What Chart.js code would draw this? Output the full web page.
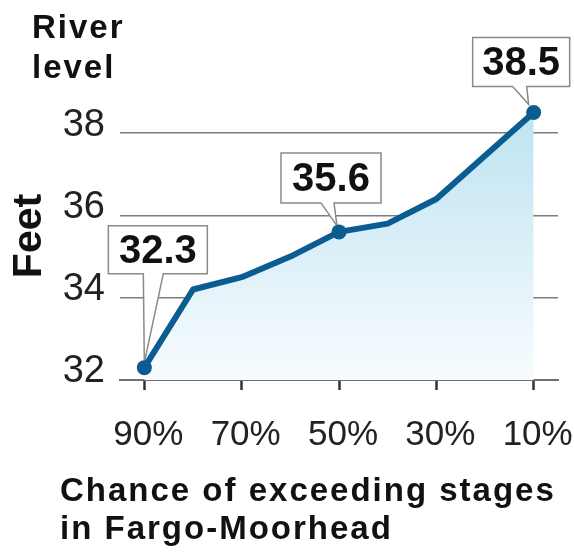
<!DOCTYPE html>
<html><head><meta charset="utf-8">
<script src="https://cdn.jsdelivr.net/npm/chart.js@4.4.1/dist/chart.umd.min.js"></script>
<style>html,body{margin:0;padding:0;background:#fff;}#wrap{width:574px;height:555px;}</style>
</head><body><div id="wrap"><canvas id="c" width="574" height="555"></canvas></div>
<script>
// ---- data ----
const categories = ['90%','80%','70%','60%','50%','40%','30%','20%','10%'];
const riverLevel = [32.3, 34.2, 34.5, 35.0, 35.6, 35.8, 36.4, 37.45, 38.5];
const labelledIndices = [0, 4, 8];
const yTickValues = [32, 34, 36, 38];
const shownXTicks = ['90%','70%','50%','30%','10%'];
const yTitle = 'Feet';
const topTitle = ['River', 'level'];
const xTitle = ['Chance of exceeding stages', 'in Fargo-Moorhead'];

// ---- style: callout geometry relative to the point ----
const calloutStyle = {
  0: {dx:-36, dy:-142, w:99, h:48, b1:-1, b2:19, tx:0, ty:-5},
  4: {dx:-58, dy:-79, w:100, h:50, b1:-18, b2:-5, tx:-2, ty:-6},
  8: {dx:-61, dy:-75, w:97, h:49, b1:-21, b2:-7, tx:-5, ty:-8}
};
const lineBlue = '#0b5c91';
const FONT = 'Liberation Sans, Arial, sans-serif';

const calloutPlugin = {
  id: 'callouts',
  beforeDatasetsDraw(chart) {
    const ctx = chart.ctx;
    const meta = chart.getDatasetMeta(0);
    ctx.save();
    labelledIndices.forEach(i => {
      const p = meta.data[i];
      const s = calloutStyle[i];
      const px = p.x, py = p.y;
      const L = px + s.dx, T = py + s.dy, R = L + s.w, B = T + s.h;
      ctx.beginPath();
      ctx.moveTo(L, T); ctx.lineTo(R, T); ctx.lineTo(R, B);
      ctx.lineTo(px + s.b2, B); ctx.lineTo(px + s.tx, py + s.ty); ctx.lineTo(px + s.b1, B);
      ctx.lineTo(L, B); ctx.closePath();
      ctx.fillStyle = '#ffffff'; ctx.fill();
      ctx.strokeStyle = '#8a8a8a'; ctx.lineWidth = 1.5; ctx.stroke();
      ctx.fillStyle = '#111';
      ctx.font = 'bold 40px ' + FONT;
      ctx.textAlign = 'center'; ctx.textBaseline = 'middle';
      ctx.fillText(riverLevel[i].toFixed(1), (L + R) / 2, (T + B) / 2 + 2);
    });
    ctx.restore();
  },
  afterDraw(chart) {
    const ctx = chart.ctx;
    ctx.save();
    ctx.fillStyle = '#111';
    ctx.font = 'bold 33px ' + FONT;
    ctx.textAlign = 'left'; ctx.textBaseline = 'alphabetic';
    try { ctx.letterSpacing = '2px'; } catch (e) {}
    ctx.fillText(topTitle[0], 32, 38);
    ctx.fillText(topTitle[1], 32, 78);
    ctx.fillText(xTitle[0], 60, 501);
    ctx.fillText(xTitle[1], 60, 539);
    try { ctx.letterSpacing = '0px'; } catch (e) {}
    ctx.restore();
  }
};

new Chart(document.getElementById('c'), {
  type: 'line',
  data: {
    labels: categories,
    datasets: [{
      data: riverLevel,
      borderColor: lineBlue,
      borderWidth: 6,
      tension: 0,
      borderJoinStyle: 'round',
      borderCapStyle: 'round',
      fill: 'start',
      backgroundColor: (c) => {
        const ca = c.chart.chartArea;
        if (!ca) return 'rgba(190,228,242,0.6)';
        const g = c.chart.ctx.createLinearGradient(0, ca.top + 20, 0, ca.bottom);
        g.addColorStop(0, '#bde3f1');
        g.addColorStop(1, '#f8fcfe');
        return g;
      },
      pointRadius: (c) => labelledIndices.includes(c.dataIndex) ? 7.5 : 0,
      pointHoverRadius: (c) => labelledIndices.includes(c.dataIndex) ? 7.5 : 0,
      pointBackgroundColor: lineBlue,
      pointBorderWidth: 0,
      clip: false
    }]
  },
  options: {
    responsive: false,
    animation: false,
    devicePixelRatio: 1,
    layout: { padding: { top: 92, right: 16, left: 0, bottom: 0 } },
    plugins: { legend: { display: false }, tooltip: { enabled: false }, title: { display: false } },
    scales: {
      x: {
        offset: true,
        afterFit: (s) => { s.height = 175; s.paddingLeft = 0; s.paddingRight = 0; },
        border: { display: true, color: '#707070', width: 2 },
        grid: {
          display: true, drawOnChartArea: false, drawTicks: true, tickLength: 10, offset: false,
          tickWidth: 2.5,
          tickColor: (c) => shownXTicks.includes(categories[c.index]) ? '#333' : 'rgba(0,0,0,0)'
        },
        ticks: {
          autoSkip: false, maxRotation: 0, minRotation: 0, padding: 24, labelOffset: 4,
          color: '#222', font: { family: FONT, size: 35 },
          callback: (v, i) => shownXTicks.includes(categories[i]) ? categories[i] : ''
        }
      },
      y: {
        min: 32, max: 39,
        afterBuildTicks: (s) => { s.ticks = yTickValues.map(v => ({ value: v })); },
        afterFit: (s) => { s.width = 120; s.paddingTop = 0; s.paddingBottom = 0; },
        border: { display: false },
        grid: { color: '#7d7d7d', lineWidth: 1.5, drawTicks: false },
        ticks: { padding: 15, labelOffset: -8, color: '#222', font: { family: FONT, size: 38 } },
        title: { display: true, text: yTitle, color: '#111', font: { family: FONT, size: 41, weight: 'bold' }, padding: { top: 5, bottom: 0 } }
      }
    }
  },
  plugins: [calloutPlugin]
});
</script></body></html>
